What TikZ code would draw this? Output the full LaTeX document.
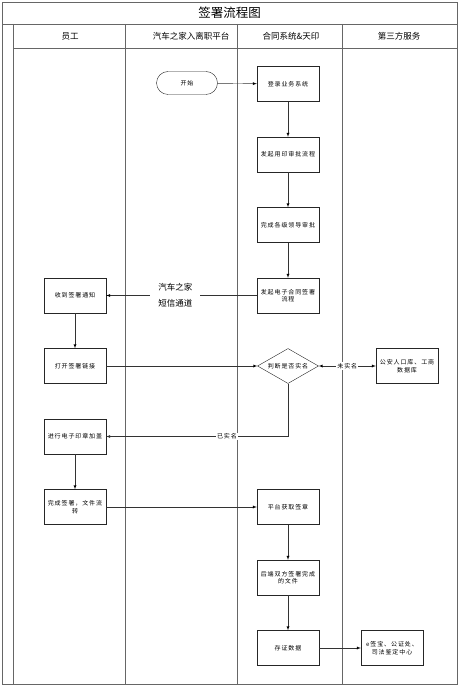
\documentclass[tikz,border=0pt]{standalone}
\usepackage{fontspec}
\setmainfont{Noto Sans CJK SC}
\newfontfamily\boxfont[LetterSpace=15]{Noto Sans CJK SC}
\usetikzlibrary{arrows,shapes.geometric,positioning}

\begin{document}
\begin{tikzpicture}[x=1pt,y=-1pt,node distance=70.5pt,>=latex,font=\boxfont\fontsize{6}{7.5}\selectfont]
        \tikzstyle{lane}=[draw=black!60,line width=0.9pt]
        \tikzstyle{head}=[font=\rmfamily\fontsize{8.5}{10}\selectfont]
        \tikzstyle{proc}=[draw=black!85,rectangle,minimum width=62pt,minimum height=35pt,inner sep=1pt,align=center]
        \tikzstyle{start}=[draw=black!85,rectangle,rounded corners=11.5pt,minimum width=61pt,minimum height=23pt]
        \tikzstyle{decision}=[draw=black!85,diamond,aspect=1.75,minimum width=61pt,minimum height=35pt,inner sep=0pt]
        \tikzstyle{lbl}=[fill=white,inner sep=1pt]
        \tikzstyle{msg}=[fill=white,inner xsep=8pt,align=center,font=\rmfamily\fontsize{8.5}{16}\selectfont]

        \useasboundingbox (0,0) rectangle (474,700);

        % pool and lanes
        \draw[lane] (2,2) rectangle (457,684);
        \draw[lane] (2,24) -- (457,24);
        \draw[lane] (13,48) -- (457,48);
        \foreach \x in {13,125,237,342}
                \draw[lane] (\x,24) -- (\x,684);
        \node[font=\rmfamily\fontsize{12.5}{14}\selectfont] (T) at (229.5,13) {签署流程图};
        \node[head] (H1) at (70,36)  {员工};
        \node[head] (H2) at (191,36) {汽车之家入离职平台};
        \node[head] (H3) at (291,36) {合同系统\&天印};
        \node[head] (H4) at (399,36) {第三方服务};

        \node[start]     (S01) at (187,83)               {开始};
        \node[proc]      (Q01) at (288,84)               {登录业务系统};
        \node[proc]      (Q02) [below of=Q01]            {发起用印审批流程};
        \node[proc]      (Q03) [below of=Q02]            {完成各级领导审批};
        \node[proc]      (Q04) [below of=Q03]            {发起电子合同签署\\流程};
        \node[decision]  (Q05) [below of=Q04]            {判断是否实名};
        \node[proc]      (Q06) [below of=Q05,node distance=141pt] {平台获取签章};
        \node[proc]      (Q07) [below of=Q06]            {后端双方签署完成\\的文件};
        \node[proc]      (Q08) [below of=Q07]            {存证数据};
        \node[proc]      (E01) [left of=Q04,node distance=213pt] {收到签署通知}; % employee
        \node[proc]      (E02) [left of=Q05,node distance=213pt] {打开签署链接};
        \node[proc]      (E03) [below of=E02]            {进行电子印章加盖};
        \node[proc]      (E04) [below of=E03]            {完成签署，文件流\\转};
        \node[proc]      (P01) [right of=Q05,node distance=119pt] {公安人口库、工商\\数据库}; % third party
        \node[proc]      (P02) [right of=Q08,node distance=104pt] {e签宝、公证处、\\司法鉴定中心};

        \path[->,draw=black!80]
                  (S01) edge                                  (Q01)
                  (Q01) edge                                  (Q02)
                  (Q02) edge                                  (Q03)
                  (Q03) edge                                  (Q04)
                  (Q04) edge node [msg,pos=0.54] {汽车之家\\短信通道} (E01)
                  (E01) edge                                  (E02)
                  (E02) edge                                  (Q05)
                  (Q05) edge [<->] node [lbl] {未实名}       (P01)
                  (E03) edge                                  (E04)
                  (E04) edge                                  (Q06)
                  (Q06) edge                                  (Q07)
                  (Q07) edge                                  (Q08)
                  (Q08) edge                                  (P02);
        \draw[->,black!80] (Q05.south) |- node [lbl,pos=0.668,text=black] {已实名} (E03.east);
\end{tikzpicture}
\end{document}
